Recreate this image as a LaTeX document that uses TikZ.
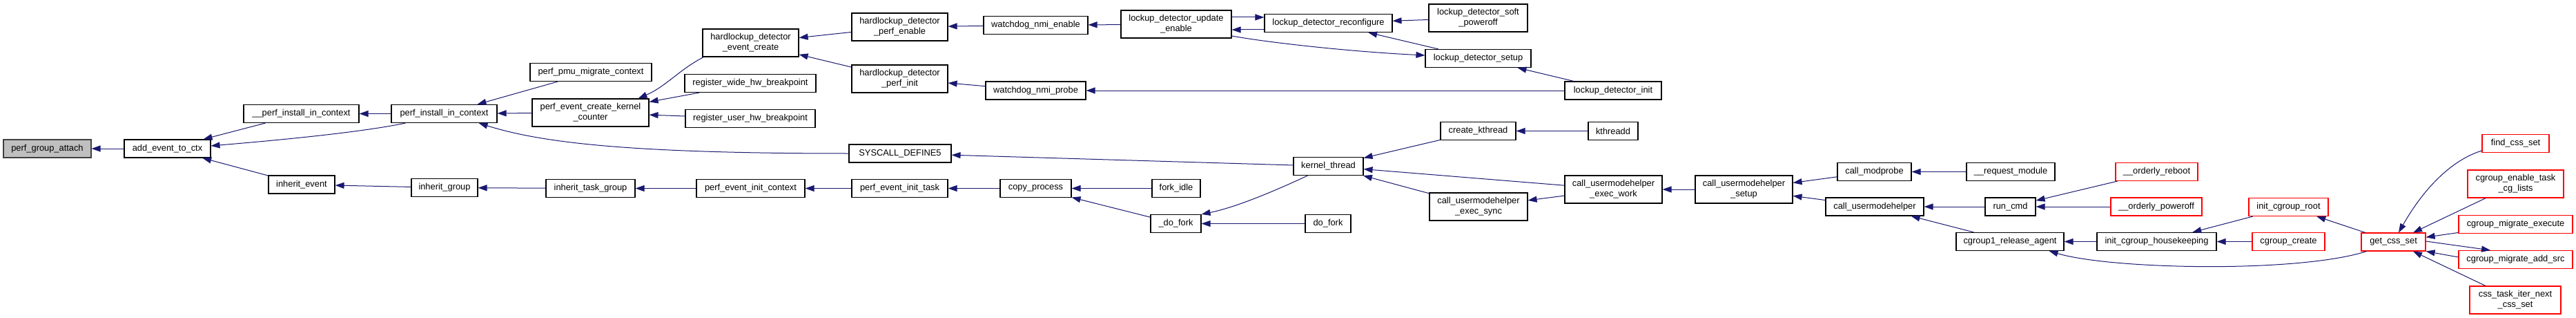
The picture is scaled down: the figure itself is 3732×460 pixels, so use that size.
\documentclass[tikz,border=0pt]{standalone}
\usepackage{fontspec}
\setmainfont{Liberation Sans}
\usetikzlibrary{arrows.meta}
\definecolor{edgeblue}{HTML}{191970}
\definecolor{nodered}{HTML}{FF0000}
\definecolor{rootgrey}{HTML}{BFBFBF}
\begin{document}
\begin{tikzpicture}[x=1pt,y=-1pt]
\tikzset{
  fn/.style={draw=black, line width=1.1pt, fill=white, inner sep=0pt, align=center,
    font=\fontsize{12.85}{15}\selectfont},
  rootfn/.style={fn, fill=rootgrey, draw=black!75},
  redfn/.style={fn, draw=nodered},
  bw/.style={minimum width=#1pt},
  one/.style={minimum height=26pt},
  two/.style={minimum height=40pt},
  edge/.style={draw=edgeblue, line width=1pt, -{Triangle[length=13pt,width=9pt]}},
}
\useasboundingbox (0,0) rectangle (3732,460);
% nodes
\node[rootfn, bw=127, one] (pga) at (68.5,215) {perf\_group\_attach};
\node[fn, bw=125, one] (aetc) at (242.5,215) {add\_event\_to\_ctx};
\node[fn, bw=167, one] (ppic) at (436.5,164.5) {\_\_perf\_install\_in\_context};
\node[fn, bw=153, one] (pic) at (643.5,164.5) {perf\_install\_in\_context};
\node[fn, bw=96, one] (ie) at (437,267) {inherit\_event};
\node[fn, bw=96, one] (ig) at (644,271.5) {inherit\_group};
\node[fn, bw=176, one] (ppmc) at (856,104.5) {perf\_pmu\_migrate\_context};
\node[fn, bw=169, two] (peckc) at (855.5,163) {perf\_event\_create\_kernel\\\_counter};
\node[fn, bw=129, one] (itg) at (855.5,272.5) {inherit\_task\_group};
\node[fn, bw=139, two] (hdec) at (1087.5,62) {hardlockup\_detector\\\_event\_create};
\node[fn, bw=190, one] (rwhb) at (1087,120.5) {register\_wide\_hw\_breakpoint};
\node[fn, bw=188, one] (ruhb) at (1087,171.5) {register\_user\_hw\_breakpoint};
\node[fn, bw=157, one] (peic) at (1087.5,272.5) {perf\_event\_init\_context};
\node[fn, bw=148, one] (sd5) at (1304,222) {SYSCALL\_DEFINE5};
\node[fn, bw=139, two] (hdpe) at (1303.5,39) {hardlockup\_detector\\\_perf\_enable};
\node[fn, bw=139, two] (hdpi) at (1303.5,114) {hardlockup\_detector\\\_perf\_init};
\node[fn, bw=139, one] (peit) at (1303.5,272.5) {perf\_event\_init\_task};
\node[fn, bw=151, one] (wne) at (1500.5,36.5) {watchdog\_nmi\_enable};
\node[fn, bw=145, one] (wnp) at (1500.5,131) {watchdog\_nmi\_probe};
\node[fn, bw=103, one] (cp) at (1500.5,272.5) {copy\_process};
\node[fn, bw=160, two] (ldue) at (1704,35) {lockup\_detector\_update\\\_enable};
\node[fn, bw=70, one] (fi) at (1704,272.5) {fork\_idle};
\node[fn, bw=73, one] (dfk) at (1703.5,323.5) {\_do\_fork};
\node[fn, bw=185, one] (ldr) at (1924.5,33.5) {lockup\_detector\_reconfigure};
\node[fn, bw=101, one] (kt) at (1924.5,240.5) {kernel\_thread};
\node[fn, bw=66, one] (df) at (1924,323.5) {do\_fork};
\node[fn, bw=143, two] (ldsp) at (2141.5,26) {lockup\_detector\_soft\\\_poweroff};
\node[fn, bw=153, one] (lds) at (2141.5,84.5) {lockup\_detector\_setup};
\node[fn, bw=109, one] (ck) at (2141.5,189.5) {create\_kthread};
\node[fn, bw=142, two] (cues) at (2142,299) {call\_usermodehelper\\\_exec\_sync};
\node[fn, bw=140, one] (ldi) at (2337,131) {lockup\_detector\_init};
\node[fn, bw=72, one] (ktd) at (2337,189.5) {kthreadd};
\node[fn, bw=141, two] (cuew) at (2337.5,274) {call\_usermodehelper\\\_exec\_work};
\node[fn, bw=141, two] (cus) at (2526.5,274) {call\_usermodehelper\\\_setup};
\node[fn, bw=107, one] (cm) at (2715.5,248.5) {call\_modprobe};
\node[fn, bw=142, one] (cu) at (2716,299) {call\_usermodehelper};
\node[fn, bw=128, one] (rm) at (2913,248.5) {\_\_request\_module};
\node[fn, bw=73, one] (rc) at (2912.5,299) {run\_cmd};
\node[fn, bw=156, one] (cra) at (2912,349.5) {cgroup1\_release\_agent};
\node[redfn, bw=119, one] (orb) at (3124.5,248.5) {\_\_orderly\_reboot};
\node[redfn, bw=132, one] (opo) at (3124,299) {\_\_orderly\_poweroff};
\node[fn, bw=173, one] (ich) at (3124.5,349.5) {init\_cgroup\_housekeeping};
\node[redfn, bw=115, one] (icr) at (3315.5,299.5) {init\_cgroup\_root};
\node[redfn, bw=105, one] (cc) at (3315.5,349.5) {cgroup\_create};
\node[redfn, bw=93, one] (gcs) at (3467.5,350) {get\_css\_set};
\node[redfn, bw=97, one] (fcs) at (3644.5,207.5) {find\_css\_set};
\node[redfn, bw=139, two] (cetcl) at (3644.5,266) {cgroup\_enable\_task\\\_cg\_lists};
\node[redfn, bw=165, one] (cme) at (3644.5,324.5) {cgroup\_migrate\_execute};
\node[redfn, bw=165, one] (cmas) at (3644.5,375.5) {cgroup\_migrate\_add\_src};
\node[redfn, bw=132, two] (ctin) at (3644,434) {css\_task\_iter\_next\\\_css\_set};
% edges
\draw[edge] (aetc) -- (pga);
\draw[edge] (ppic) -- (aetc);
\draw[edge] ([xshift=21pt]pic.south west) .. controls (520,192) and (400,203) .. ([yshift=4pt]aetc.east);
\draw[edge] (ie) -- (aetc);
\draw[edge] (pic) -- (ppic);
\draw[edge] (ig) -- (ie);
\draw[edge] (ppmc) -- (pic);
\draw[edge] (peckc) -- (pic);
\draw[edge] (sd5.west) .. controls (900,222) and (780,205) .. ([xshift=-27pt]pic.south east);
\draw[edge] (itg) -- (ig);
\draw[edge] ([xshift=2pt]hdec.south west) .. controls (985,100) and (965,125) .. ([xshift=-16pt]peckc.north east);
\draw[edge] (rwhb) -- (peckc);
\draw[edge] (ruhb) -- (peckc);
\draw[edge] (peic) -- (itg);
\draw[edge] (hdpe) -- (hdec);
\draw[edge] (hdpi) -- (hdec);
\draw[edge] (kt) -- (sd5);
\draw[edge] (peit) -- (peic);
\draw[edge] (wne) -- (hdpe);
\draw[edge] (wnp) -- (hdpi);
\draw[edge] (cp) -- (peit);
\draw[edge] (ldue) -- (wne);
\draw[edge] (ldi) -- (wnp);
\draw[edge] (fi) -- (cp);
\draw[edge] (dfk) -- (cp);
\draw[edge] ([yshift=-9.5pt]ldr.west) -- ([yshift=-8pt]ldue.east);
\draw[edge] ([yshift=10pt]ldue.east) -- ([yshift=8.5pt]ldr.west);
\draw[edge] ([yshift=-17pt]ldue.east) .. controls (1840,62) and (1960,75) .. ([yshift=4.5pt]lds.west);
\draw[edge] (ldsp) -- (ldr);
\draw[edge] (lds) -- (ldr);
\draw[edge] (ldi) -- (lds);
\draw[edge] ([xshift=21pt]kt.south west) .. controls (1845,277) and (1790,300) .. (dfk.north east);
\draw[edge] (df) -- (dfk);
\draw[edge] (ck) -- (kt);
\draw[edge] (cuew) -- (kt);
\draw[edge] (cues) -- (kt);
\draw[edge] (ktd) -- (ck);
\draw[edge] (cuew) -- (cues);
\draw[edge] (cus) -- (cuew);
\draw[edge] (cm) -- (cus);
\draw[edge] (cu) -- (cus);
\draw[edge] (rm) -- (cm);
\draw[edge] (rc) -- (cu);
\draw[edge] (cra) -- (cu);
\draw[edge] (orb) -- (rc);
\draw[edge] (opo) -- (rc);
\draw[edge] (ich) -- (cra);
\draw[edge] ([xshift=8pt]gcs.south west) .. controls (3330,395) and (3060,390) .. ([xshift=-22pt]cra.south east);
\draw[edge] (icr) -- (ich);
\draw[edge] (cc) -- (ich);
\draw[edge] (gcs) -- (icr);
\draw[edge] ([yshift=-10.5pt]fcs.west) .. controls (3550,232) and (3510,275) .. ([xshift=7.5pt]gcs.north);
\draw[edge] (cetcl) -- (gcs);
\draw[edge] (cme) -- (gcs);
\draw[edge] ([yshift=1pt]gcs.east) -- ([xshift=-36.5pt]cmas.north);
\draw[edge] ([yshift=3.5pt]cmas.west) -- (gcs.south east);
\draw[edge] (ctin) -- (gcs);
\end{tikzpicture}
\end{document}
